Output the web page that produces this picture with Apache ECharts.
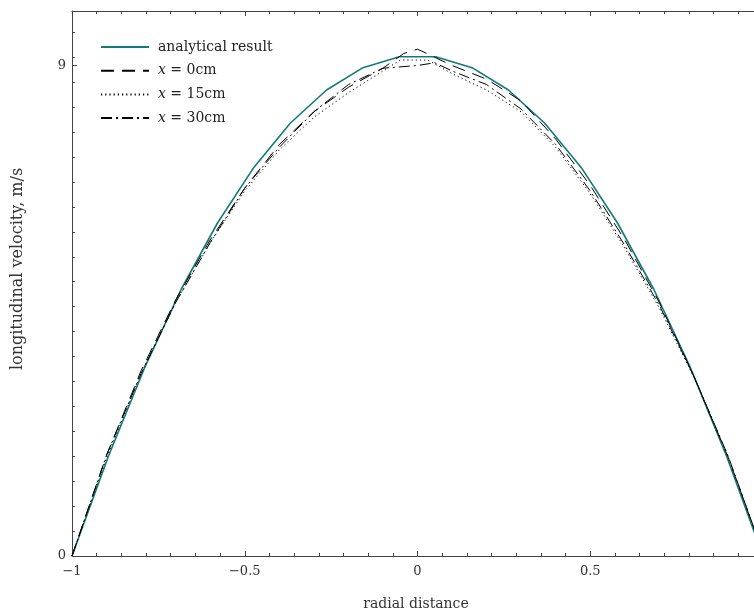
<!DOCTYPE html>
<html><head><meta charset="utf-8">
<script src="https://cdn.jsdelivr.net/npm/echarts@6/dist/echarts.min.js"></script>
<style>html,body{margin:0;padding:0;background:#fff;overflow:hidden;width:754px;height:614px}#c{width:772px;height:614px}</style>
</head><body><div id="c"></div>
<script>
// analytical result (20 points)
var anaX = [-1, -0.8947, -0.7895, -0.6842, -0.5789, -0.4737, -0.3684, -0.2632, -0.1579, -0.0526,
             0.0526, 0.1579, 0.2632, 0.3684, 0.4737, 0.5789, 0.6842, 0.7895, 0.8947, 1];
var anaY = [0, 1.83, 3.46, 4.89, 6.11, 7.13, 7.94, 8.55, 8.96, 9.16,
            9.16, 8.96, 8.55, 7.94, 7.13, 6.11, 4.89, 3.46, 1.83, 0];
// x = 0cm
var x0X = [-1, -0.9, -0.8, -0.7, -0.6, -0.5, -0.4, -0.3, -0.2, -0.1, -0.04, 0, 0.05, 0.1, 0.2, 0.3, 0.4, 0.5, 0.6, 0.7, 0.8, 0.9, 1];
var x0Y = [0, 1.85, 3.4, 4.7, 5.8, 6.75, 7.55, 8.15, 8.6, 8.95, 9.22, 9.3, 9.15, 9.0, 8.75, 8.35, 7.65, 6.8, 5.8, 4.65, 3.3, 1.8, 0.05];
// x = 15cm
var x15X = [-1, -0.9, -0.8, -0.7, -0.6, -0.5, -0.4, -0.3, -0.2, -0.1, -0.05, 0.03, 0.1, 0.2, 0.3, 0.4, 0.5, 0.6, 0.7, 0.8, 0.9, 1];
var x15Y = [0, 1.8, 3.35, 4.65, 5.75, 6.7, 7.45, 8.05, 8.5, 8.9, 9.1, 9.1, 8.85, 8.55, 8.15, 7.5, 6.65, 5.65, 4.55, 3.28, 1.8, 0.05];
// x = 30cm
var x30X = [-1, -0.9, -0.8, -0.7, -0.6, -0.5, -0.4, -0.3, -0.2, -0.1, 0, 0.05, 0.1, 0.2, 0.3, 0.4, 0.5, 0.6, 0.7, 0.8, 0.9, 1];
var x30Y = [0, 1.85, 3.35, 4.65, 5.75, 6.75, 7.5, 8.15, 8.65, 8.95, 9.0, 9.05, 8.9, 8.65, 8.2, 7.55, 6.7, 5.7, 4.6, 3.3, 1.82, 0.05];

var seriesNames = ['analytical result', 'x = 0cm', 'x = 15cm', 'x = 30cm'];
var xTickLabels = {'-1': '\u22121', '-0.5': '\u22120.5', '0': '0', '0.5': '0.5'};
var yTickLabels = {'0': '0', '9': '9'};
var xAxisName = 'radial distance';
var yAxisName = 'longitudinal velocity, m/s';

function pairs(xs, ys) { return xs.map(function (x, i) { return [x, ys[i]]; }); }

var FONT = 'DejaVu Serif';
var AX = '#444';
var TXT = '#333';
var chart = echarts.init(document.getElementById('c'), null, {renderer: 'canvas', width: 772, height: 614});
chart.setOption({
  backgroundColor: '#fff',
  animation: false,
  grid: {left: 72, top: 11, right: 9, bottom: 58, containLabel: false},
  legend: {
    orient: 'vertical', left: 100, top: 40, padding: 0,
    itemWidth: 48, itemHeight: 14, itemGap: 9.7,
    data: seriesNames,
    itemStyle: {opacity: 0},
    formatter: function (n) { return n.indexOf('x = ') === 0 ? '{i|x} = ' + n.slice(4) : n; },
    textStyle: {fontFamily: FONT, fontSize: 14, color: '#222', padding: [0, 0, 0, 4],
      rich: {i: {fontFamily: FONT, fontStyle: 'italic', fontSize: 14, color: '#222'}}}
  },
  graphic: [{
    type: 'text', x: 416, y: 604,
    style: {text: xAxisName, font: '14px "DejaVu Serif"', fill: TXT, align: 'center', verticalAlign: 'middle'}
  }, {
    type: 'text', rotation: Math.PI / 2, x: 18, y: 269,
    style: {text: yAxisName, font: '16px "DejaVu Serif"', fill: TXT, align: 'center', verticalAlign: 'middle'}
  }],
  xAxis: [{
    type: 'value', min: -1, max: 1, interval: 0.5, position: 'bottom',
    axisLine: {show: true, onZero: false, lineStyle: {color: AX, width: 1}},
    axisTick: {show: true, inside: true, length: 5, lineStyle: {color: AX}},
    minorTick: {show: true, splitNumber: 7, length: 3, lineStyle: {color: AX}},
    splitLine: {show: false}, minorSplitLine: {show: false},
    axisLabel: {fontFamily: FONT, fontSize: 13, color: TXT, margin: 9,
      formatter: function (v) { return xTickLabels[String(v)] !== undefined ? xTickLabels[String(v)] : ''; }}
  }, {
    type: 'value', min: -1, max: 1, interval: 0.5, position: 'top',
    axisLine: {show: true, onZero: false, lineStyle: {color: AX, width: 1}},
    axisTick: {show: true, inside: true, length: 5, lineStyle: {color: AX}},
    minorTick: {show: true, splitNumber: 7, length: 3, lineStyle: {color: AX}},
    splitLine: {show: false}, axisLabel: {show: false}
  }],
  yAxis: [{
    type: 'value', min: 0, max: 10, interval: 9, position: 'left',
    axisLine: {show: true, onZero: false, lineStyle: {color: AX, width: 1}},
    axisTick: {show: true, inside: true, length: 5, lineStyle: {color: AX}},
    splitLine: {show: false},
    axisLabel: {fontFamily: FONT, fontSize: 13, color: TXT, margin: 6, showMaxLabel: false,
      formatter: function (v) { return yTickLabels[String(v)] !== undefined ? yTickLabels[String(v)] : ''; }}
  }, {
    type: 'value', min: 0, max: 10, interval: 0.4575, position: 'left',
    axisLine: {show: false, onZero: false},
    axisTick: {show: true, inside: true, length: 3, lineStyle: {color: AX}},
    splitLine: {show: false}, axisLabel: {show: false}
  }],
  series: [{
    name: seriesNames[0], type: 'line', data: pairs(anaX, anaY), symbol: 'none',
    lineStyle: {color: '#117a7a', width: 1.6}, itemStyle: {color: '#117a7a'}, z: 2
  }, {
    name: seriesNames[1], type: 'line', data: pairs(x0X, x0Y), symbol: 'none',
    lineStyle: {color: '#000', width: 1, type: [13, 8]}, itemStyle: {color: '#000'}, z: 3
  }, {
    name: seriesNames[2], type: 'line', data: pairs(x15X, x15Y), symbol: 'none',
    lineStyle: {color: '#000', width: 1, type: [1.2, 3]}, itemStyle: {color: '#000'}, z: 3
  }, {
    name: seriesNames[3], type: 'line', data: pairs(x30X, x30Y), symbol: 'none',
    lineStyle: {color: '#000', width: 1, type: [11, 4, 2, 4]}, itemStyle: {color: '#000'}, z: 3
  }]
});
</script></body></html>
